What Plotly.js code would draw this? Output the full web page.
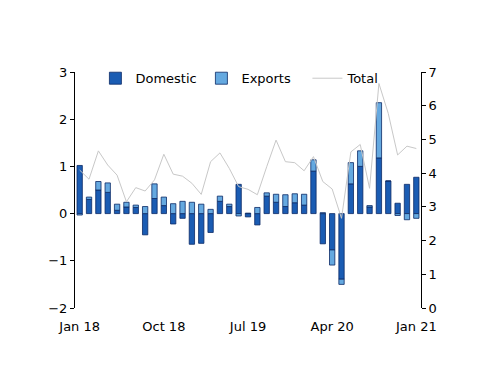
<!DOCTYPE html>
<html>
<head>
<meta charset="utf-8">
<script src="https://cdn.plot.ly/plotly-3.0.1.min.js"></script>
<style>html,body{margin:0;padding:0;background:#fff;}#chart{width:500px;height:386px;}</style>
</head>
<body>
<div id="chart"></div>
<script>
const categories = ["Jan 18","Feb 18","Mar 18","Apr 18","May 18","Jun 18","Jul 18","Aug 18","Sep 18","Oct 18","Nov 18","Dec 18",
  "Jan 19","Feb 19","Mar 19","Apr 19","May 19","Jun 19","Jul 19","Aug 19","Sep 19","Oct 19","Nov 19","Dec 19",
  "Jan 20","Feb 20","Mar 20","Apr 20","May 20","Jun 20","Jul 20","Aug 20","Sep 20","Oct 20","Nov 20","Dec 20","Jan 21"];
const domestic = [1.02,0.30,0.50,0.45,0.07,0.14,0.13,-0.45,0.32,0.17,-0.22,-0.10,
  -0.65,-0.63,-0.40,0.26,0.15,0.62,-0.07,-0.24,0.37,0.24,0.15,0.23,
  0.18,0.90,-0.64,-0.77,-1.39,0.63,1.00,0.14,1.18,0.69,0.22,0.62,0.77];
const exportsV = [-0.03,0.05,0.18,0.20,0.13,0.10,0.05,0.15,0.31,0.18,0.21,0.26,
  0.24,0.20,0.09,0.11,0.05,-0.05,0.01,0.13,0.07,0.17,0.25,0.19,
  0.23,0.24,0.02,-0.32,-0.11,0.45,0.33,0.03,1.17,0.00,-0.04,-0.13,-0.10];
const total = [4.09,3.82,4.66,4.24,3.94,3.15,3.57,3.47,3.80,4.56,3.97,3.91,
  3.70,3.37,4.34,4.60,4.14,3.60,3.52,3.36,4.19,4.98,4.34,4.31,
  4.07,4.49,3.75,3.53,2.66,4.63,4.85,3.55,6.66,5.77,4.54,4.80,4.73];
const labelIdx = [0,9,18,27,36];
const zeroTickPos = [8.5,17.5,26.5,35.5];

const xs = categories.map((c,i)=>i);
const font = {family:"DejaVu Sans, Verdana, sans-serif", size:13, color:"#000"};

const traces = [
  {type:"bar", name:"Domestic", x:xs, y:domestic, hovertext:categories, hoverinfo:"text+y",
   marker:{color:"#1a5cb3", line:{color:"#0b2a66", width:0.8}}},
  {type:"bar", name:"Exports", x:xs, y:exportsV, hovertext:categories, hoverinfo:"text+y",
   marker:{color:"#65a9e0", line:{color:"#0b2a66", width:0.8}}},
  {type:"scatter", mode:"lines", name:"Total", x:xs, y:total, yaxis:"y2",
   line:{color:"#c8c8c8", width:1}}
];

const layout = {
  width:500, height:386,
  margin:{l:75, r:78.5, t:72, b:78},
  paper_bgcolor:"#fff", plot_bgcolor:"#fff",
  font:font,
  barmode:"relative", bargap:0.43,
  showlegend:true,
  legend:{orientation:"h", x:0.059, y:1.037, xanchor:"left", yanchor:"top",
    font:{family:font.family, size:13}, bgcolor:"rgba(0,0,0,0)",
    entrywidth:61, entrywidthmode:"pixels", itemwidth:30, traceorder:"normal"},
  xaxis:{range:[-0.5,36.5], tickmode:"array", tickvals:labelIdx,
    ticktext:labelIdx.map(i=>categories[i]), showline:false, showgrid:false,
    zeroline:false, ticks:"outside", ticklen:6, tickcolor:"rgba(0,0,0,0)",
    tickfont:font, fixedrange:true},
  xaxis2:{overlaying:"x", anchor:"free", position:0.4, range:[-0.5,36.5],
    tickmode:"array", tickvals:zeroTickPos, showticklabels:false,
    ticks:"outside", ticklen:4, tickcolor:"#000", showline:true, linecolor:"#000",
    linewidth:1, showgrid:false, zeroline:false},
  yaxis:{range:[-2,3], tickmode:"array", tickvals:[-2,-1,0,1,2,3],
    showline:true, linecolor:"#000", linewidth:1, ticks:"outside", ticklen:4,
    tickcolor:"#000", showgrid:false, zeroline:false, tickfont:font},
  yaxis2:{range:[0,7], overlaying:"y", side:"right", tickmode:"array",
    tickvals:[0,1,2,3,4,5,6,7], showline:true, linecolor:"#000", linewidth:1,
    ticks:"outside", ticklen:4, tickcolor:"#000", showgrid:false, zeroline:false,
    tickfont:font}
};

Plotly.newPlot("chart", traces, layout, {displayModeBar:false, staticPlot:true});
</script>
</body>
</html>
